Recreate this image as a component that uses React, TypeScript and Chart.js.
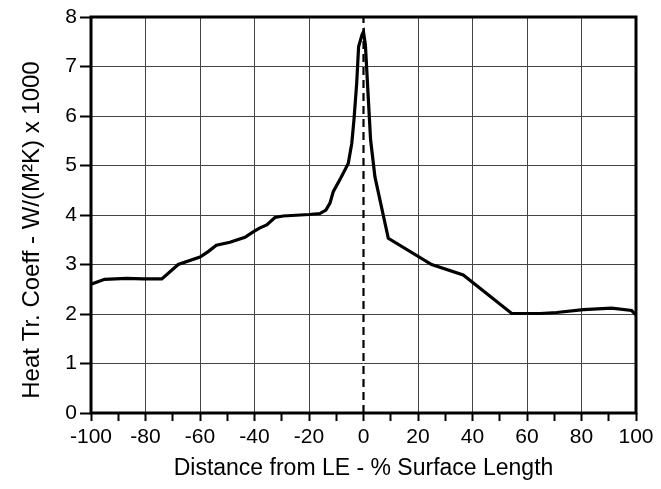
import React, { useEffect, useRef } from 'react';
import { Chart, registerables } from 'chart.js';

Chart.register(...registerables);

// Distance from LE (% surface length)
const distance = [
  -100, -95, -87, -81, -74, -68, -60, -57, -54, -49, -43.5, -40.5, -38, -35.5, -32.5, -29.5,
  -20, -16, -13.8, -12.3, -11.1, -8.6, -5.6, -4.3, -3.5, -2.5, -1.8, -0.5, 0, 0.7, 1.8, 2.6,
  4.2, 9.1, 25, 36.6, 54.4, 64.8, 70.9, 80.7, 91.1, 98.4, 100,
];
// Heat transfer coefficient (W/(M²K) x 1000)
const heatCoeff = [
  2.6, 2.7, 2.72, 2.71, 2.71, 3.0, 3.15, 3.26, 3.39, 3.45, 3.55, 3.66, 3.74, 3.8, 3.95, 3.98,
  4.01, 4.03, 4.1, 4.24, 4.47, 4.72, 5.04, 5.45, 5.92, 6.66, 7.4, 7.65, 7.7, 7.43, 6.32, 5.52,
  4.77, 3.53, 3.0, 2.79, 2.01, 2.01, 2.03, 2.09, 2.12, 2.07, 1.98,
];
// Leading edge marker line
const leadingEdgeX = [0, 0];
const leadingEdgeY = [0, 8];

const xTitle = 'Distance from LE - % Surface Length';
const yTitle = 'Heat Tr. Coeff - W/(M\u00B2K) x 1000';

const FONT = "'Liberation Sans', Arial, Helvetica, sans-serif";

const framePlugin = {
  id: 'frame',
  afterDatasetsDraw(chart: any) {
    const { ctx, chartArea } = chart;
    ctx.save();
    ctx.strokeStyle = '#000';
    ctx.lineWidth = 3;
    ctx.strokeRect(chartArea.left, chartArea.top, chartArea.right - chartArea.left, chartArea.bottom - chartArea.top);
    ctx.restore();
  },
};

const yTitlePlugin = {
  id: 'yTitle',
  afterDraw(chart: any) {
    const { ctx } = chart;
    ctx.save();
    ctx.translate(32, 230);
    ctx.rotate(-Math.PI / 2);
    ctx.fillStyle = '#000';
    ctx.font = `24px ${FONT}`;
    ctx.textAlign = 'center';
    ctx.textBaseline = 'middle';
    ctx.fillText(yTitle, 0, 0);
    ctx.restore();
  },
};

export default function App() {
  const ref = useRef<HTMLCanvasElement>(null);
  useEffect(() => {
    document.body.style.margin = '0';
    const chart = new Chart(ref.current as HTMLCanvasElement, {
      type: 'scatter',
      data: {
        datasets: [
          {
            data: distance.map((x, i) => ({ x, y: heatCoeff[i] })),
            showLine: true,
            borderColor: '#000',
            borderWidth: 3.2,
            pointRadius: 0,
            tension: 0,
            order: 1,
          },
          {
            data: leadingEdgeX.map((x, i) => ({ x, y: leadingEdgeY[i] })),
            showLine: true,
            borderColor: '#000',
            borderWidth: 2.2,
            borderDash: [8, 5],
            pointRadius: 0,
            order: 2,
          },
        ],
      },
      options: {
        animation: false,
        responsive: false,
        devicePixelRatio: 1,
        layout: { padding: { left: 0, right: 25, top: 17, bottom: 0 } },
        plugins: { legend: { display: false }, tooltip: { enabled: false } },
        scales: {
          x: {
            type: 'linear',
            min: -100,
            max: 100,
            afterFit: (s: any) => { s.height = 76; },
            ticks: {
              stepSize: 10,
              autoSkip: false,
              maxRotation: 0,
              padding: 4,
              color: '#000',
              font: { family: FONT, size: 21 },
              callback: (v: any) => (Number(v) % 20 === 0 ? String(v) : ''),
            },
            grid: {
              color: (c: any) => {
                const v = c.tick ? c.tick.value : 1;
                return v % 20 === 0 && v !== 0 ? '#444' : 'rgba(0,0,0,0)';
              },
              lineWidth: 1,
              tickColor: '#000',
              tickLength: 8,
              tickWidth: 2,
            },
            border: { display: false },
            title: {
              display: true,
              text: xTitle,
              color: '#000',
              font: { family: FONT, size: 23 },
              padding: { top: 0, bottom: 7 },
            },
          },
          y: {
            type: 'linear',
            min: 0,
            max: 8,
            afterFit: (s: any) => { s.width = 91; },
            ticks: {
              stepSize: 1,
              padding: 3,
              color: '#000',
              font: { family: FONT, size: 21 },
            },
            grid: {
              color: '#444',
              lineWidth: 1,
              tickColor: '#000',
              tickLength: 11,
              tickWidth: 2,
            },
            border: { display: false },
            title: { display: false },
          },
        },
      },
      plugins: [framePlugin, yTitlePlugin],
    } as any);
    return () => chart.destroy();
  }, []);
  return <canvas ref={ref} width={661} height={489} style={{ display: 'block' }} />;
}
